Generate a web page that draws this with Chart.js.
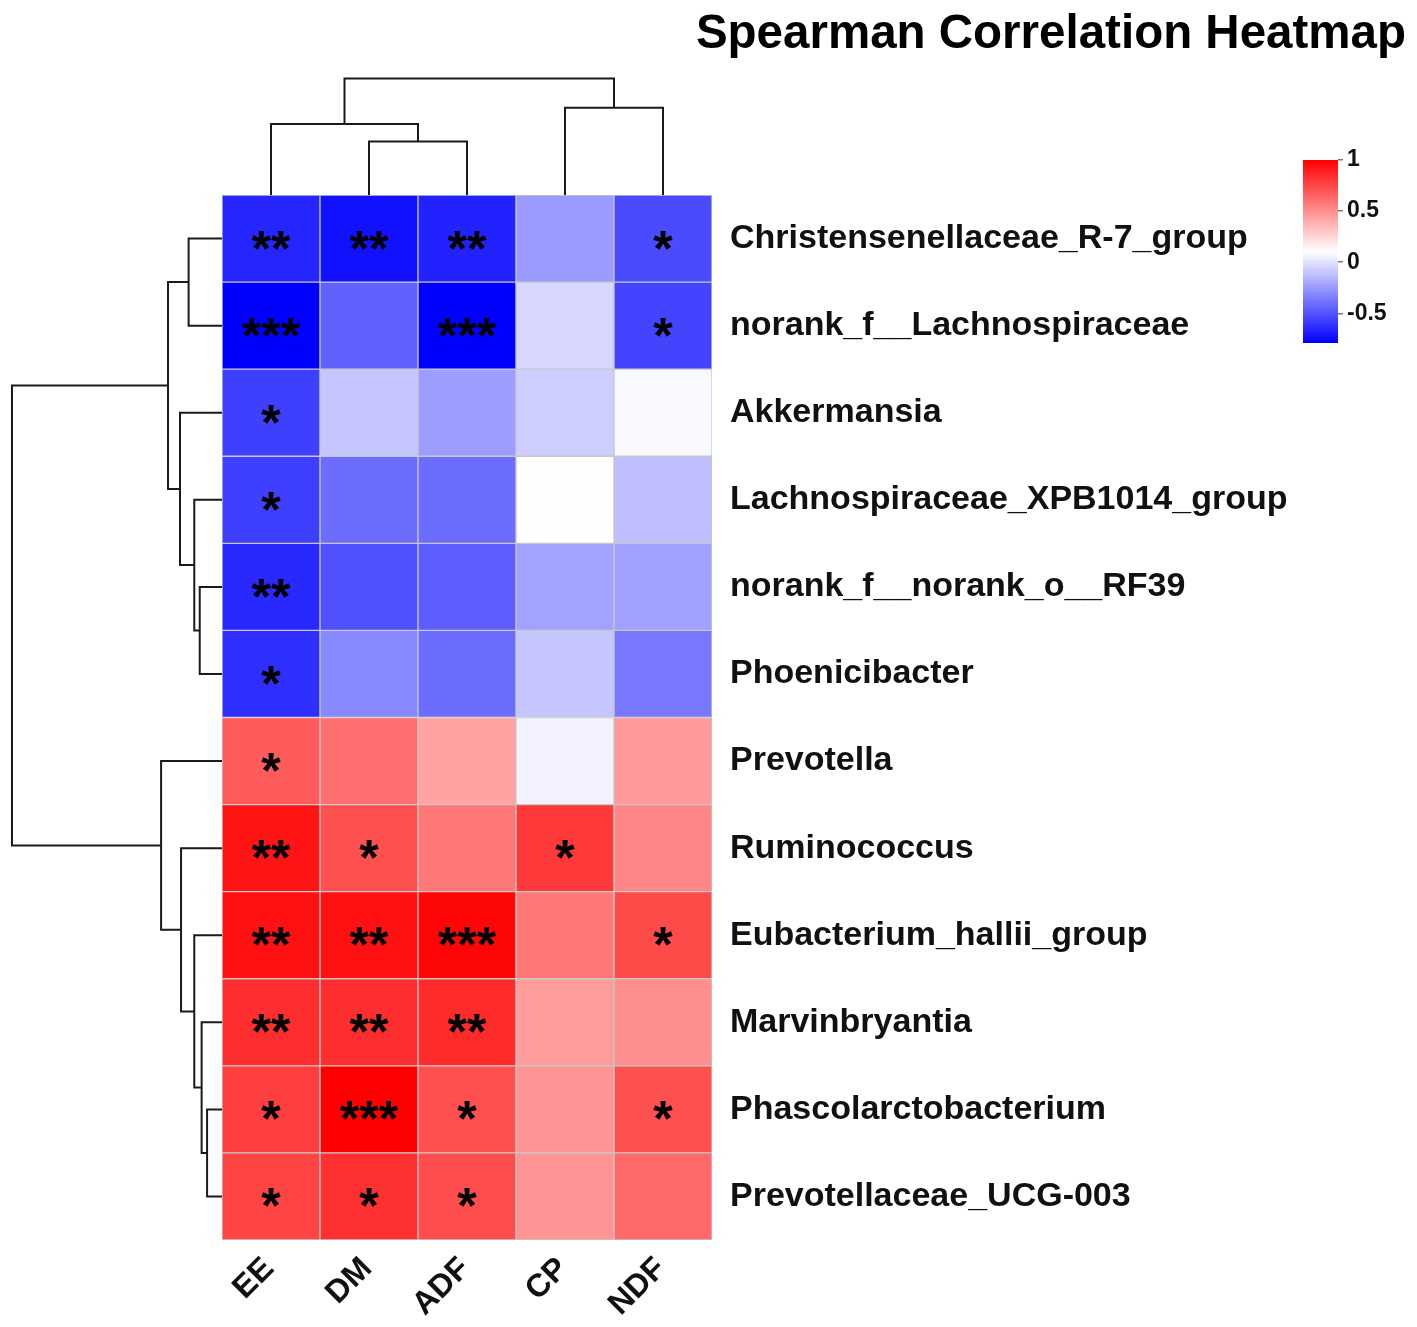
<!DOCTYPE html>
<html>
<head>
<meta charset="utf-8">
<title>Spearman Correlation Heatmap</title>
<script src="https://cdn.jsdelivr.net/npm/chart.js@4.4.1/dist/chart.umd.min.js"></script>
<style>
  html, body { margin: 0; padding: 0; background: #fff; }
  #wrap { position: relative; width: 1417px; height: 1327px; overflow: hidden; }
  #wrap canvas { position: absolute; left: 0; top: 0; }
  #title {
    position: absolute; right: 11px; top: 8px;
    font: bold 47.5px "Liberation Sans", Arial, sans-serif; line-height: 47px;
    color: #000; white-space: nowrap;
  }
</style>
</head>
<body>
<div id="wrap">
  <canvas id="rowTree" width="1417" height="1327"></canvas>
  <canvas id="colTree" width="1417" height="1327"></canvas>
  <canvas id="heat" width="1417" height="1327"></canvas>
  <canvas id="legend" width="1417" height="1327"></canvas>
  <div id="title">Spearman Correlation Heatmap</div>
</div>
<script>
const FONT = '"Liberation Sans", Arial, sans-serif';

// --- data ---------------------------------------------------------------
const columns = ['EE', 'DM', 'ADF', 'CP', 'NDF'];

const genera = [
  'Christensenellaceae_R-7_group',
  'norank_f__Lachnospiraceae',
  'Akkermansia',
  'Lachnospiraceae_XPB1014_group',
  'norank_f__norank_o__RF39',
  'Phoenicibacter',
  'Prevotella',
  'Ruminococcus',
  'Eubacterium_hallii_group',
  'Marvinbryantia',
  'Phascolarctobacterium',
  'Prevotellaceae_UCG-003'
];

// spearman rho, rows = genera, cols = columns
const rho = [
  [-0.66, -0.73, -0.67, -0.25, -0.53],
  [-0.79, -0.45, -0.79, -0.04, -0.55],
  [-0.57, -0.10, -0.24, -0.07,  0.08],
  [-0.57, -0.41, -0.41,  0.10, -0.12],
  [-0.65, -0.51, -0.46, -0.22, -0.23],
  [-0.63, -0.31, -0.41, -0.10, -0.37],
  [ 0.68,  0.61,  0.43,  0.06,  0.46],
  [ 0.93,  0.72,  0.58,  0.80,  0.53],
  [ 0.94,  0.94,  0.98,  0.58,  0.74],
  [ 0.84,  0.84,  0.85,  0.45,  0.50],
  [ 0.78,  1.00,  0.72,  0.48,  0.72],
  [ 0.76,  0.83,  0.73,  0.48,  0.63]
];

const stars = [
  ['**', '**', '**', '', '*'],
  ['***', '', '***', '', '*'],
  ['*', '', '', '', ''],
  ['*', '', '', '', ''],
  ['**', '', '', '', ''],
  ['*', '', '', '', ''],
  ['*', '', '', '', ''],
  ['**', '*', '', '*', ''],
  ['**', '**', '***', '', '*'],
  ['**', '**', '**', '', ''],
  ['*', '***', '*', '', '*'],
  ['*', '*', '*', '', '']
];

// hclust style merges: negative = leaf (1-based, display order), positive = earlier merge
const colMerge = [[-2, -3], [-1, 1], [-4, -5], [2, 3]];
const colHeight = [0.46, 0.61, 0.75, 1.0];

const rowMerge = [[-11, -12], [-10, 1], [-5, -6], [-4, 3], [-9, 2], [-1, -2],
                  [-8, 5], [-3, 4], [6, 8], [-7, 7], [9, 10]];
const rowHeight = [0.071, 0.097, 0.106, 0.132, 0.132, 0.159,
                   0.195, 0.200, 0.257, 0.290, 1.0];

const legendTicks = [-0.5, 0, 0.5, 1];

// --- layout ---------------------------------------------------------------
const W = 1417, H = 1327;
const heatBox = {left: 222, top: 195, right: 712, bottom: 1240};
const colTreeTop = 60;
const legendBox = {left: 1303, top: 160, right: 1338, bottom: 343};

Chart.defaults.animation = false;
Chart.defaults.responsive = false;
Chart.defaults.plugins.legend.display = false;
Chart.defaults.plugins.tooltip.enabled = false;

// blue - white - red, breaks from min to max like pheatmap
const allValues = rho.flat();
const vMin = Math.min(...allValues);
const vMax = Math.max(...allValues);
const vMid = (vMin + vMax) / 2;

function heatColor(v) {
  if (v <= vMid) {
    const c = Math.round(255 * (v - vMin) / (vMid - vMin));
    return `rgb(${c},${c},255)`;
  }
  const c = Math.round(255 * (vMax - v) / (vMax - vMid));
  return `rgb(255,${c},${c})`;
}

// turn merges into U shaped links: [[pos, h], ...]
function treeLinks(merge, height) {
  const pos = [];
  const nodePos = k => k < 0 ? -k - 1 : pos[k - 1];
  const nodeH = k => k < 0 ? 0 : height[k - 1];
  return merge.map(([a, b], i) => {
    pos[i] = (nodePos(a) + nodePos(b)) / 2;
    return [[nodePos(a), nodeH(a)], [nodePos(a), height[i]],
            [nodePos(b), height[i]], [nodePos(b), nodeH(b)]];
  });
}

const treeLine = {
  showLine: true, borderColor: '#1a1a1a', borderWidth: 2,
  pointRadius: 0, tension: 0, clip: false
};

// --- column dendrogram -----------------------------------------------------
new Chart(document.getElementById('colTree'), {
  type: 'scatter',
  data: {
    datasets: treeLinks(colMerge, colHeight).map(link => ({
      ...treeLine,
      data: link.map(([p, h]) => ({x: p, y: h}))
    }))
  },
  options: {
    layout: {padding: {left: heatBox.left, right: W - heatBox.right, top: colTreeTop, bottom: H - heatBox.top}},
    scales: {
      x: {type: 'linear', min: -0.5, max: columns.length - 0.5, display: false},
      y: {type: 'linear', min: 0, max: 1.16, display: false}
    }
  }
});

// --- row dendrogram ----------------------------------------------------------
new Chart(document.getElementById('rowTree'), {
  type: 'scatter',
  data: {
    datasets: treeLinks(rowMerge, rowHeight).map(link => ({
      ...treeLine,
      data: link.map(([p, h]) => ({x: h, y: p}))
    }))
  },
  options: {
    layout: {padding: {left: 0, right: W - heatBox.left, top: heatBox.top, bottom: H - heatBox.bottom}},
    scales: {
      x: {type: 'linear', reverse: true, min: 0, max: 1.057, display: false},
      y: {type: 'linear', reverse: true, min: -0.5, max: genera.length - 0.5, display: false}
    }
  }
});

// --- heatmap -----------------------------------------------------------------
const cells = [];
rho.forEach((row, i) => row.forEach((v, j) => {
  cells.push({x: j, y: [i - 0.5, i + 0.5], v: v, s: stars[i][j]});
}));

const starLabels = {
  id: 'starLabels',
  afterDatasetsDraw(chart) {
    const ctx = chart.ctx;
    const meta = chart.getDatasetMeta(0);
    ctx.save();
    ctx.font = `bold 50px ${FONT}`;
    ctx.fillStyle = '#000';
    ctx.textAlign = 'center';
    ctx.textBaseline = 'alphabetic';
    meta.data.forEach((bar, i) => {
      const s = cells[i].s;
      if (!s) return;
      const c = bar.getCenterPoint();
      ctx.fillText(s, c.x, c.y + 27);
    });
    ctx.restore();
  }
};

const rowFont = {family: FONT, size: 34, weight: 'bold'};
const colFont = {family: FONT, size: 32, weight: 'bold'};

new Chart(document.getElementById('heat'), {
  type: 'bar',
  data: {
    datasets: [{
      data: cells,
      backgroundColor: ctx => ctx.raw ? heatColor(ctx.raw.v) : '#fff',
      borderColor: '#c8c8c8',
      borderWidth: 1,
      borderSkipped: false,
      barPercentage: 1,
      categoryPercentage: 1,
      grouped: false
    }]
  },
  options: {
    layout: {padding: {left: heatBox.left, top: heatBox.top, right: 0, bottom: 0}},
    scales: {
      x: {
        type: 'linear', position: 'bottom', offset: false,
        min: -0.5, max: columns.length - 0.5,
        afterBuildTicks: s => { s.ticks = columns.map((_, i) => ({value: i})); },
        afterFit: s => { s.height = H - heatBox.bottom; },
        grid: {display: false, offset: false}, border: {display: false},
        ticks: {
          callback: v => columns[v], autoSkip: false,
          minRotation: 45, maxRotation: 45, padding: 2, labelOffset: -2,
          color: '#111', font: colFont
        }
      },
      y: {
        type: 'linear', position: 'right', reverse: true, offset: false,
        min: -0.5, max: genera.length - 0.5,
        afterBuildTicks: s => { s.ticks = genera.map((_, i) => ({value: i})); },
        afterFit: s => { s.width = W - heatBox.right; },
        grid: {display: false}, border: {display: false},
        ticks: {callback: v => genera[v], autoSkip: false, padding: 10, color: '#111', font: rowFont}
      }
    }
  },
  plugins: [starLabels]
});

// --- colour legend -------------------------------------------------------------
new Chart(document.getElementById('legend'), {
  type: 'bar',
  data: {
    labels: [''],
    datasets: [{
      data: [[vMin, vMax]],
      backgroundColor: ctx => {
        const area = ctx.chart.chartArea;
        if (!area) return null;
        const g = ctx.chart.ctx.createLinearGradient(0, area.bottom, 0, area.top);
        for (let k = 0; k <= 20; k++) {
          g.addColorStop(k / 20, heatColor(vMin + (vMax - vMin) * k / 20));
        }
        return g;
      },
      borderWidth: 0,
      barPercentage: 1,
      categoryPercentage: 1
    }]
  },
  options: {
    layout: {padding: {left: legendBox.left, top: legendBox.top, right: 0, bottom: H - legendBox.bottom}},
    scales: {
      x: {display: false},
      y: {
        position: 'right', min: vMin, max: vMax,
        afterBuildTicks: s => { s.ticks = legendTicks.map(v => ({value: v})); },
        afterFit: s => { s.width = W - legendBox.right; },
        grid: {drawOnChartArea: false, drawTicks: true, tickLength: 5, color: '#777', lineWidth: 1.5},
        border: {display: false},
        ticks: {padding: 4, color: '#111', font: {family: FONT, size: 23, weight: 'bold'}, callback: v => String(v)}
      }
    }
  }
});
</script>
</body>
</html>
